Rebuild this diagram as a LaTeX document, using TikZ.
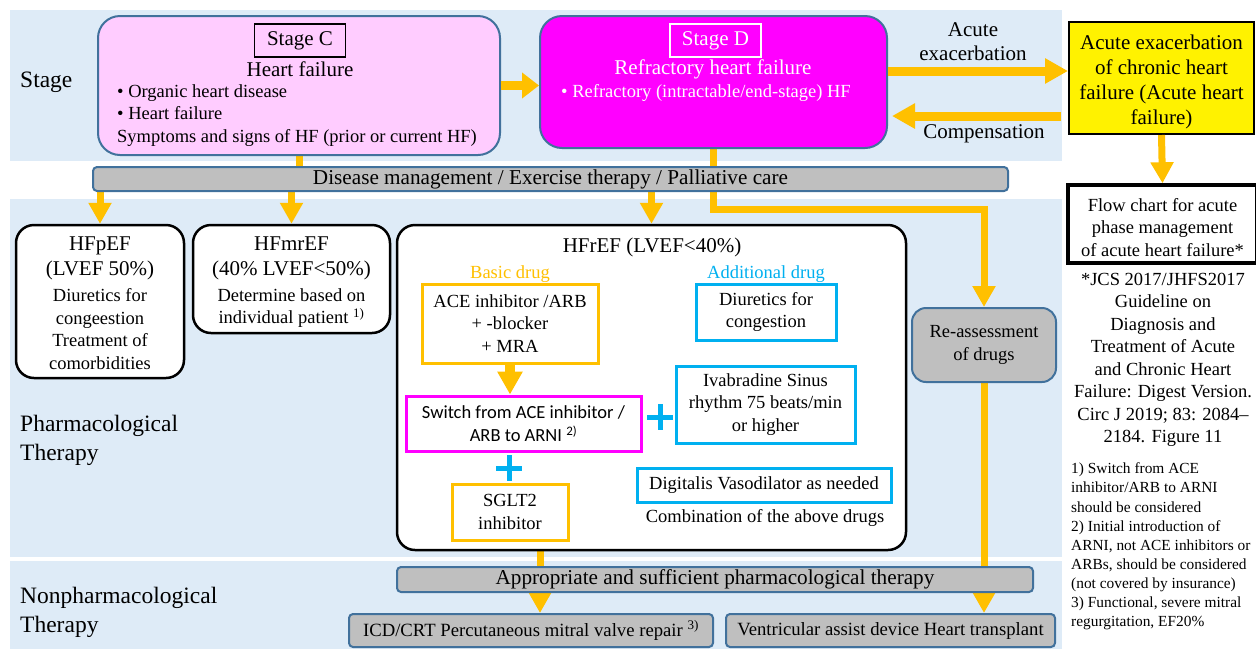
\documentclass[tikz,border=0pt]{standalone}
\usepackage{fontspec}
\setmainfont{Liberation Serif}
\newfontfamily\sansf{Carlito}
\usetikzlibrary{arrows.meta, positioning, calc}

\definecolor{bandblue}{HTML}{DEEBF7}
\definecolor{steel}{HTML}{41719C}
\definecolor{bargray}{HTML}{BFBFBF}
\definecolor{stagepink}{HTML}{FFCCFF}
\definecolor{hfmagenta}{HTML}{FF00FF}
\definecolor{hfyellow}{HTML}{FFC000}
\definecolor{drugblue}{HTML}{00B0F0}

\newcommand{\bodyfont}{\fontsize{18.5}{22.5}\selectfont}
\newcommand{\titlefont}{\fontsize{21}{25}\selectfont}
\newcommand{\sidefont}{\fontsize{23.5}{29}\selectfont}
\newcommand{\notefont}{\fontsize{15.4}{19.1}\selectfont}
\newcommand{\barfont}{\fontsize{18.7}{20}\selectfont}
\newcommand{\widebarfont}{\fontsize{21.2}{24}\selectfont}

\pgfdeclarelayer{bands}
\pgfdeclarelayer{background}
\pgfsetlayers{bands,background,main}

\begin{document}
\begin{tikzpicture}[x=1pt, y=-1pt,
    stagebox/.style={draw=steel, line width=2pt, rounded corners=22pt, inner sep=0pt},
    tagbox/.style={draw, line width=1.5pt, minimum width=91pt, minimum height=33pt, inner sep=0pt, font=\titlefont},
    graybar/.style={draw=steel, fill=bargray, line width=2pt, rounded corners=4pt, inner sep=0pt, font=\bodyfont},
    hfbox/.style={draw=black, fill=white, line width=2.5pt, rounded corners=18pt, inner sep=0pt},
    drugbox/.style={fill=white, line width=3pt, inner sep=0pt, align=center, font=\bodyfont},
    txt/.style={font=\bodyfont, align=center, inner sep=0pt},
    ttl/.style={font=\titlefont, align=center, inner sep=0pt},
    side/.style={font=\sidefont, align=left, inner sep=0pt, anchor=west},
    flow/.style={draw=hfyellow, line width=7pt, -{Triangle[width=22pt,length=21pt]}},
    bigflow/.style={draw=hfyellow, line width=9pt, -{Triangle[width=24pt,length=23pt]}},
    plus/.style={draw=drugblue, line width=5pt}
]
    \useasboundingbox (0,0) rectangle (1256,649);

    % bands
    \begin{pgfonlayer}{bands}
        \fill[bandblue] (10,10) rectangle (1062,161);
        \fill[bandblue] (10,199) rectangle (1062,557);
        \fill[bandblue] (10,561) rectangle (1062,649);
    \end{pgfonlayer}

    \node[side] (lstage) at (20,82) {Stage};
    \node[side] (lpharm) at (20,440.5) {Pharmacological\\Therapy};
    \node[side] (lnonph) at (20,612) {Nonpharmacological\\Therapy};

    % stage row
    \node[stagebox, fill=stagepink, minimum width=402pt, minimum height=139pt] (sC) at (299,85.5) {};
    \node[tagbox] (sCtag) at (300,40.5) {Stage C};
    \node[ttl] (sCttl) at (300,69) {Heart failure};
    \node[txt, align=left, anchor=west] (sClist) at (117,115.5) {• Organic heart disease\\• Heart failure\\Symptoms and signs of HF (prior or current HF)};

    \node[stagebox, fill=hfmagenta, minimum width=347pt, minimum height=132pt] (sD) at (713.5,82) {};
    \node[tagbox, draw=white, text=white] (sDtag) at (715.5,40.5) {Stage D};
    \node[ttl, text=white] (sDttl) at (713,69) {Refractory heart failure};
    \node[txt, text=white, anchor=west] (sDlist) at (561,93) {• Refractory (intractable/end-stage) HF};

    \node[ttl, font=\fontsize{21}{24}\selectfont] (lacute) at (973,42) {Acute\\exacerbation};
    \node[ttl] (lcomp) at (984,134) {Compensation};

    \node[draw, fill=yellow, line width=2pt, minimum width=185pt, minimum height=112pt] (ahf) at (1161.5,78) {};
    \node[ttl] (ahfT) at (1161.5,81.5) {Acute exacerbation\\of chronic heart\\failure (Acute heart\\failure)};
    \node[draw, fill=white, line width=3.5pt, minimum width=189pt, minimum height=78pt] (fc) at (1162.5,224) {};
    \node[txt] (fcT) at (1162.5,227.5) {Flow chart for acute\\phase management\\of acute heart failure*};
    \node[txt] (jcs) at (1163,360) {*JCS 2017/JHFS2017\\Guideline on\\Diagnosis and\\Treatment of Acute\\and Chronic Heart\\Failure: Digest Version.\\Circ J 2019; 83: 2084–\\2184. Figure 11};
    \node[txt, font=\notefont, align=left, anchor=west] (notes) at (1071,546.5) {1) Switch from ACE\\inhibitor/ARB to ARNI\\should be considered\\2) Initial introduction of\\ARNI, not ACE inhibitors or\\ARBs, should be considered\\(not covered by insurance)\\3) Functional, severe mitral\\regurgitation, EF20\%};

    \node[graybar, font=\widebarfont, minimum width=915pt, minimum height=24pt] (dm) at (550.5,179) {Disease management / Exercise therapy / Palliative care};

    % pharmacological therapy
    \node[hfbox, minimum width=168pt, minimum height=153pt] (hfp) at (100,301.5) {};
    \node[ttl] (hfpT) at (100,258) {HFpEF\\(LVEF 50\%)};
    \node[txt, font=\fontsize{18.5}{22.7}\selectfont] (hfpB) at (100,329) {Diuretics for\\congeestion\\Treatment of\\comorbidities};

    \node[hfbox, minimum width=197pt, minimum height=108pt] (hfm) at (291.5,279) {};
    \node[ttl] (hfmT) at (291.5,258) {HFmrEF\\(40\% LVEF<50\%)};
    \node[txt] (hfmB) at (291.5,308) {Determine based on\\individual patient \textsuperscript{1)}};

    \node[hfbox, minimum width=509pt, minimum height=325pt] (hfr) at (651.5,387.5) {};
    \node[ttl] (hfrT) at (652,247) {HFrEF (LVEF<40\%)};
    \node[txt, text=hfyellow] (lbasic) at (510,274) {Basic drug};
    \node[txt, text=drugblue] (laddit) at (766,274) {Additional drug};

    \node[drugbox, draw=hfyellow, minimum width=176pt, minimum height=79pt] (ace) at (510,323.5) {ACE inhibitor /ARB\\+ -blocker\\+ MRA};
    \node[drugbox, draw=hfmagenta, minimum width=235pt, minimum height=55pt, font=\sansf\fontsize{18.5}{23}\selectfont] (arni) at (523.5,423.5) {Switch from ACE inhibitor /\\ARB to ARNI \textsuperscript{2)}};
    \node[drugbox, draw=hfyellow, minimum width=116pt, minimum height=56pt] (sglt) at (510,512) {SGLT2\\inhibitor};
    \node[drugbox, draw=drugblue, minimum width=140pt, minimum height=56pt] (diur) at (766,312) {Diuretics for\\congestion};
    \node[drugbox, draw=drugblue, minimum width=179pt, minimum height=77pt] (ivab) at (765.5,404.5) {Ivabradine Sinus\\rhythm 75 beats/min\\or higher};
    \node[drugbox, draw=drugblue, minimum width=254pt, minimum height=34pt] (digi) at (764,485) {Digitalis Vasodilator as needed};
    \node[txt] (lcomb) at (765,518) {Combination of the above drugs};

    \draw[plus] (660,404) -- (660,430) (647,417) -- (673,417);
    \draw[plus] (509,455) -- (509,481) (496,468) -- (522,468);

    \node[graybar, rounded corners=14pt, minimum width=144pt, minimum height=74pt, align=center] (reass) at (984,345) {Re-assessment\\of drugs};

    % nonpharmacological therapy
    \node[graybar, font=\widebarfont, minimum width=636pt, minimum height=25pt] (apt) at (715,579.5) {Appropriate and sufficient pharmacological therapy};
    \node[graybar, font=\barfont, minimum width=364pt, minimum height=33pt] (icd) at (531,630.5) {ICD/CRT Percutaneous mitral valve repair \textsuperscript{3)}};
    \node[graybar, font=\barfont, minimum width=329pt, minimum height=33pt] (vad) at (890.5,630.5) {Ventricular assist device Heart transplant};
    \coordinate (hfrtap) at (540,550);

    % connectors
    \draw[bigflow, -{Triangle[width=25pt,length=17pt]}] (sC.east) -- (sC.east -| sD.west);
    \draw[bigflow] ([yshift=11pt]sD.east) -- ([yshift=11pt]sD.east -| ahf.west);
    \draw[bigflow, shorten <=7pt, shorten >=4pt] ([yshift=-34pt]sD.east -| ahf.west) -- ([yshift=-34pt]sD.east);
    \draw[flow] (ahf.south) -- (fc.north);
    \draw[bigflow, line width=10pt] (ace.south) -- (ace.south |- arni.north);

    \begin{pgfonlayer}{background}
        \draw[hfyellow, line width=7pt] (sC.south) -- (sC.south |- dm.north);
        \draw[flow] (sD.south) -- ++(0,60) -| (reass.north);
        \draw[flow] (hfp.north |- dm.south) -- (hfp.north);
        \draw[flow] (hfm.north |- dm.south) -- (hfm.north);
        \draw[flow] (hfr.north |- dm.south) -- (hfr.north);
        \draw[flow] (hfrtap) -- (hfrtap |- icd.north);
        \draw[flow] (reass.south) -- (reass.south |- vad.north);
    \end{pgfonlayer}
\end{tikzpicture}
\end{document}
